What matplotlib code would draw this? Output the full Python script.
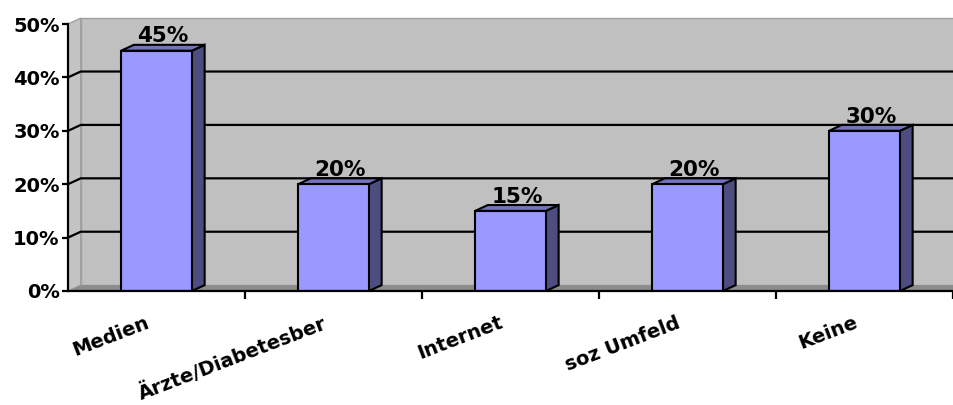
import matplotlib.pyplot as plt
from matplotlib.patches import Polygon

plt.rcParams['font.family'] = ['DejaVu Sans']

categories = ['Medien', 'Ärzte/Diabetesber', 'Internet', 'soz Umfeld', 'Keine']
values = [45, 20, 15, 20, 30]
y_ticks = [0, 10, 20, 30, 40, 50]

# depth of the 3d look in data units
dx = 0.072
dy = 1.1
bar_w = 0.4

fig = plt.figure(figsize=(9.54, 4.05), dpi=100)
ax = fig.add_axes([68 / 954, 114 / 405, 885 / 954, 267 / 405])
ax.set_xlim(0, 5)
ax.set_ylim(0, 50)
for s in ax.spines.values():
    s.set_visible(False)

# walls and floor
wall = Polygon([(dx, dy), (5.2, dy), (5.2, 50 + dy), (dx, 50 + dy)],
               closed=True, facecolor='#C0C0C0', edgecolor='#A0A0A0', lw=1, clip_on=False, zorder=0)
side = Polygon([(0, 0), (dx, dy), (dx, 50 + dy), (0, 50)],
               closed=True, facecolor='#C4C4C4', edgecolor='#A0A0A0', lw=1, clip_on=False, zorder=0)
floor = Polygon([(0, 0), (5.2, 0), (5.2, dy), (dx, dy)],
                closed=True, facecolor='#8C8C8C', edgecolor='none', clip_on=False, zorder=0.5)
ax.add_patch(wall)
ax.add_patch(side)
ax.add_patch(floor)

# gridlines on side and back wall
for v in y_ticks[1:-1]:
    ax.plot([0, dx, 5.2], [v, v + dy, v + dy], color='black', lw=1.6, clip_on=False, zorder=1)

# axes lines
ax.plot([0, 0], [0, 50], color='black', lw=1.6, clip_on=False, zorder=5)
ax.plot([0, 5.2], [0, 0], color='black', lw=1.6, clip_on=False, zorder=5)

ax.set_yticks(y_ticks)
ax.set_yticklabels([f'{t}%' for t in y_ticks], fontsize=14, fontweight='bold')
ax.tick_params(axis='y', length=4, width=1.6, pad=2)
ax.set_xticks([1, 2, 3, 4, 5])
ax.set_xticklabels([])
ax.tick_params(axis='x', length=6, width=1.6)

# bars
for i, v in enumerate(values):
    x0 = i + 0.5 - bar_w / 2
    x1 = i + 0.5 + bar_w / 2
    front = Polygon([(x0, 0), (x1, 0), (x1, v), (x0, v)], closed=True,
                    facecolor='#9999FF', edgecolor='black', lw=1.5, zorder=3, joinstyle='miter')
    right = Polygon([(x1, 0), (x1 + dx, dy), (x1 + dx, v + dy), (x1, v)], closed=True,
                    facecolor='#4D4D80', edgecolor='black', lw=1.5, zorder=3, joinstyle='miter')
    top = Polygon([(x0, v), (x1, v), (x1 + dx, v + dy), (x0 + dx, v + dy)], closed=True,
                  facecolor='#7373BF', edgecolor='black', lw=1.5, zorder=3, joinstyle='miter')
    ax.add_patch(right)
    ax.add_patch(top)
    ax.add_patch(front)
    ax.text(i + 0.5 + dx / 2, v + dy - 0.3, f'{v}%', ha='center', va='bottom',
            fontsize=15.5, fontweight='bold', zorder=6)

# slanted category labels
for i, c in enumerate(categories):
    ax.annotate(c, xy=(i + 0.5, 0), xytext=(-8, -16), textcoords='offset points',
                ha='right', va='top', rotation=21, rotation_mode='anchor',
                fontsize=14, fontweight='bold', annotation_clip=False)

fig.savefig('out.png', dpi=100)
